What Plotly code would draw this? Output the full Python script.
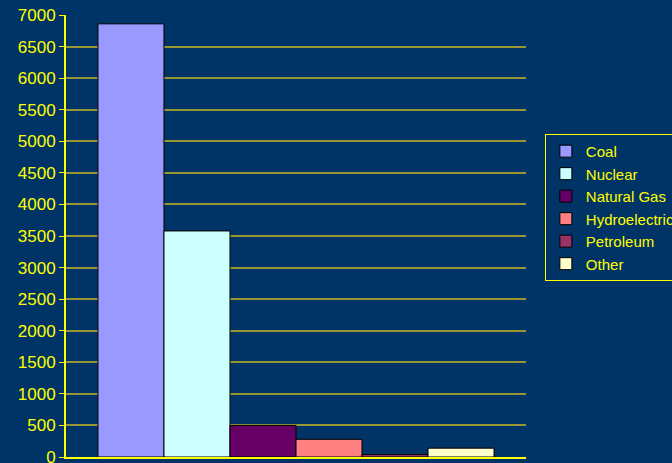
import plotly.graph_objects as go

sources = ["Coal", "Nuclear", "Natural Gas", "Hydroelectric", "Petroleum", "Other"]
values = [6860, 3580, 500, 280, 40, 140]
colors = ["#9999FF", "#CCFFFF", "#660066", "#FF8080", "#993366", "#FFFFCC"]
y_ticks = list(range(0, 7001, 500))

fig = go.Figure()
for name, v, c in zip(sources, values, colors):
    fig.add_trace(go.Bar(
        x=[0], y=[v], name=name,
        marker=dict(color=c, line=dict(color="#000000", width=1)),
    ))

fig.update_layout(
    width=672, height=463,
    paper_bgcolor="#003366", plot_bgcolor="#003366",
    barmode="group", bargap=0.139, bargroupgap=0,
    margin=dict(l=66, r=146, t=15, b=6, autoexpand=False),
    font=dict(family="Liberation Sans, Arial, sans-serif", color="#FFFF00"),
    showlegend=True,
    legend=dict(
        x=1.041, xanchor="left", y=0.731, yanchor="top",
        bordercolor="#FFFF00", borderwidth=1, bgcolor="#003366",
        font=dict(size=15, color="#FFFF00"),
        tracegroupgap=0, itemwidth=30,
    ),
    xaxis=dict(
        range=[-0.5, 0.5], showticklabels=False, showgrid=False, zeroline=False,
        showline=True, linecolor="#FFFF00", linewidth=2,
    ),
    yaxis=dict(
        range=[0, 7000], tickvals=y_ticks,
        showgrid=True, gridcolor="rgb(150,150,50)", gridwidth=1.5,
        showline=True, linecolor="#FFFF00", linewidth=2,
        ticks="outside", ticklen=5, tickcolor="#FFFF00",
        tickfont=dict(size=17, color="#FFFF00"), zeroline=False,
        ticklabeloverflow="allow",
    ),
)

fig.write_html(
    "out.html",
    config={"displayModeBar": False},
    post_script="document.body.style.margin='0';document.body.style.background='#003366';document.body.style.overflow='hidden';",
)
